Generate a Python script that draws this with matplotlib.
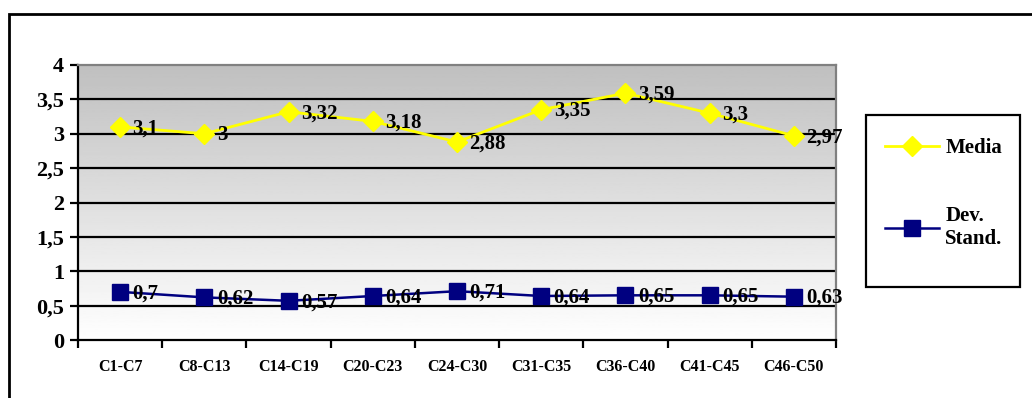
import matplotlib
matplotlib.use('Agg')
import matplotlib.pyplot as plt
import numpy as np
from matplotlib.patches import Rectangle

# Gruppi di item e statistiche
gruppi = ['C1-C7', 'C8-C13', 'C14-C19', 'C20-C23', 'C24-C30',
          'C31-C35', 'C36-C40', 'C41-C45', 'C46-C50']
media = [3.1, 3, 3.32, 3.18, 2.88, 3.35, 3.59, 3.3, 2.97]
dev_std = [0.7, 0.62, 0.57, 0.64, 0.71, 0.64, 0.65, 0.65, 0.63]
y_ticks = [0, 0.5, 1, 1.5, 2, 2.5, 3, 3.5, 4]

plt.rcParams['font.family'] = ['Liberation Serif', 'DejaVu Serif']
plt.rcParams['font.weight'] = 'bold'


def etichetta(v):
    return ('%g' % v).replace('.', ',')


fig = plt.figure(figsize=(10.32, 3.98), dpi=100)
ax = fig.add_axes([78 / 1032, 58 / 398, 758 / 1032, 275 / 398])

x = np.arange(len(gruppi))
ax.set_xlim(-0.5, len(gruppi) - 0.5)
ax.set_ylim(0, 4)

# sfondo sfumato: grigio in alto, bianco in basso
grad = np.linspace(0.75, 1.0, 256).reshape(-1, 1)
ax.imshow(grad, cmap='gray', vmin=0, vmax=1, aspect='auto', origin='upper',
          extent=(0, 1, 0, 1), transform=ax.transAxes, zorder=0)

for yv in y_ticks[1:-1]:
    ax.axhline(yv, color='black', lw=1.6, zorder=1)

ax.plot(x, media, color='#ffff00', lw=2, marker='D', markersize=10,
        markerfacecolor='#ffff00', markeredgecolor='#ffff00', zorder=3,
        label='Media')
ax.plot(x, dev_std, color='#000080', lw=1.8, marker='s', markersize=11,
        markerfacecolor='#000080', markeredgecolor='#000080', zorder=3,
        label='Dev.\nStand.')

for xi, v in zip(x, media):
    ax.annotate(etichetta(v), (xi, v), xytext=(9, -1), textcoords='offset points',
                ha='left', va='center', fontsize=15, fontweight='bold', zorder=4)
for xi, v in zip(x, dev_std):
    ax.annotate(etichetta(v), (xi, v), xytext=(9, -1), textcoords='offset points',
                ha='left', va='center', fontsize=15, fontweight='bold', zorder=4)

ax.set_yticks(y_ticks)
ax.set_yticklabels([etichetta(v) for v in y_ticks], fontsize=16, fontweight='bold')
ax.set_xticks(np.arange(len(gruppi) + 1) - 0.5)
ax.set_xticklabels([])
ax.set_xticks(x, minor=True)
ax.set_xticklabels(gruppi, minor=True, fontsize=11.5, fontweight='bold')
ax.tick_params(axis='x', which='minor', length=0, pad=14)
ax.tick_params(axis='x', which='major', direction='out', length=6, width=1.6)
ax.tick_params(axis='y', direction='out', length=6, width=1.6, pad=4)

for s in ['left', 'bottom']:
    ax.spines[s].set_color('black')
    ax.spines[s].set_linewidth(1.6)
for s in ['top', 'right']:
    ax.spines[s].set_color('#808080')
    ax.spines[s].set_linewidth(1.6)

# legenda senza cornice, con riquadro disegnato a parte
leg = fig.legend(loc='upper left', bbox_to_anchor=(885 / 1032, 1 - 138 / 398),
                 fontsize=15, frameon=False, handlelength=2.6,
                 labelspacing=2.3, borderpad=0, handletextpad=0.3,
                 borderaxespad=0)
for t in leg.get_texts():
    t.set_fontweight('bold')
    t.set_multialignment('left')
fig.patches.append(Rectangle((866 / 1032, 1 - 287 / 398), 154 / 1032, 172 / 398,
                             transform=fig.transFigure, fill=False,
                             edgecolor='black', lw=1.6))

# cornice esterna
fig.patches.append(Rectangle((9 / 1032, -0.1), 1.2, 1 - 14 / 398 + 0.1,
                             transform=fig.transFigure, fill=False,
                             edgecolor='black', lw=2))

fig.savefig('out.png', dpi=100)
